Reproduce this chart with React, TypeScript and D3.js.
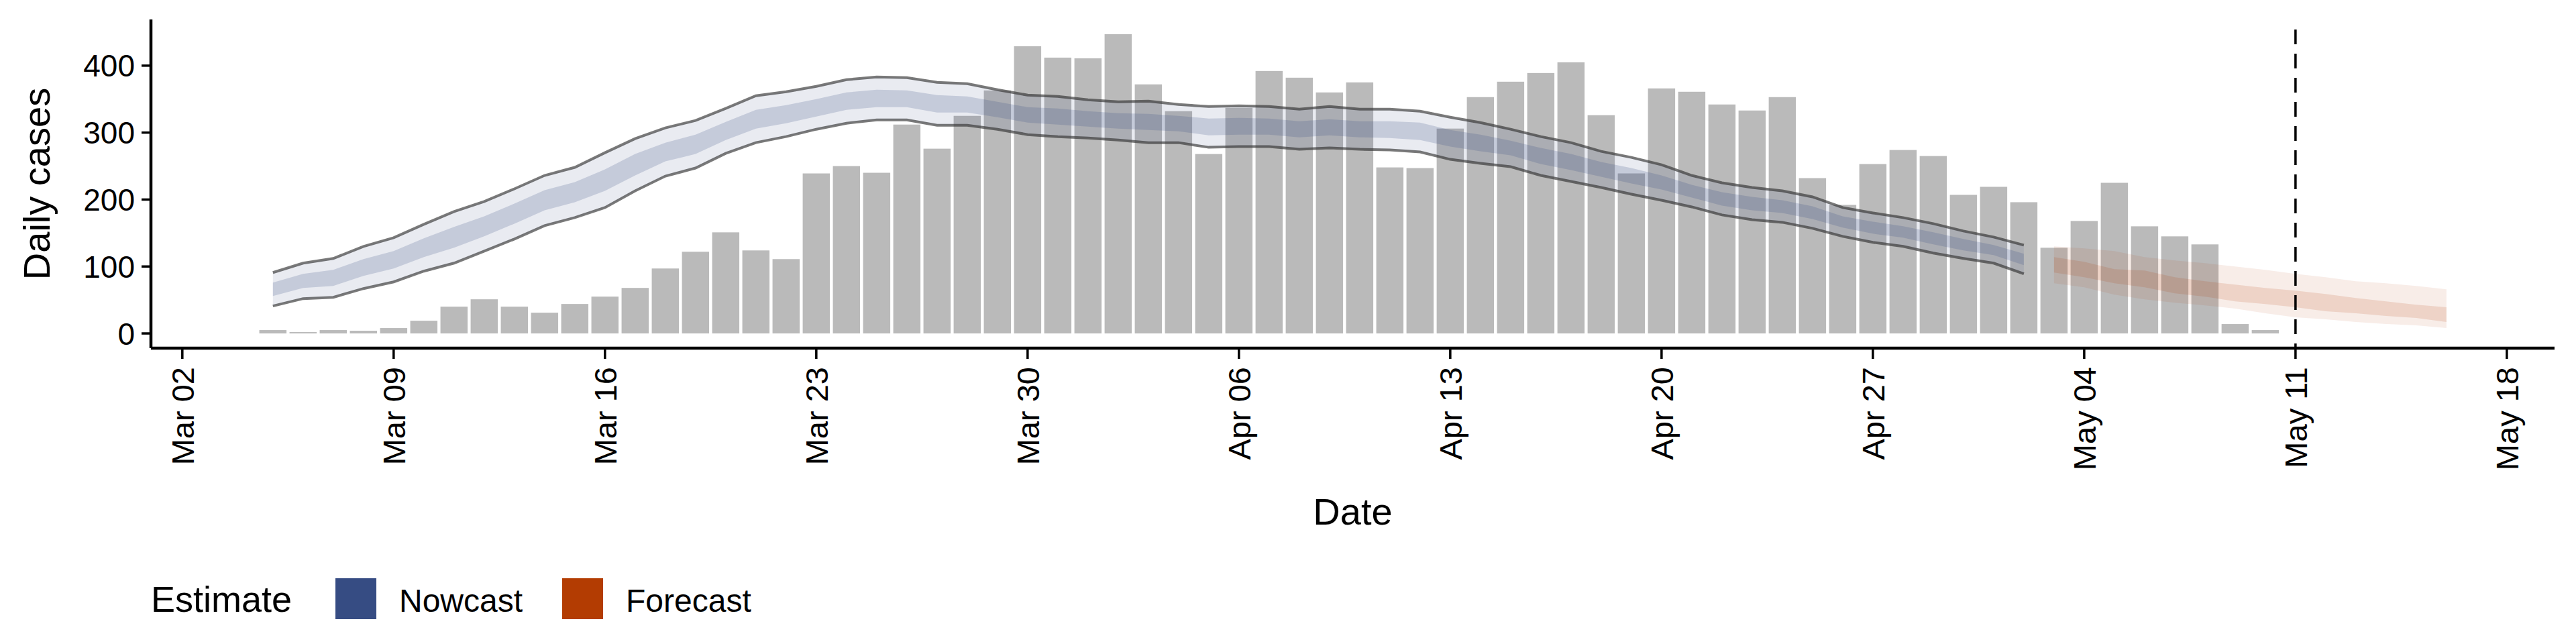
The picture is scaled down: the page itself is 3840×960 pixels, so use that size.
import React from 'react';
import * as d3 from 'd3';

// Reported daily cases, Mar 05 .. May 10
const caseStart = new Date(2020, 2, 5);
const cases = [
  5, 2, 5, 4, 8, 19, 40, 51, 40, 31, 44, 55, 68, 97, 122, 151, 124, 111, 239, 250, 240,
  312, 276, 325, 363, 429, 412, 411, 447, 372, 332, 268, 337, 392, 382, 360, 375, 248, 247,
  306, 353, 376, 389, 405, 326, 239, 366, 361, 342, 333, 353, 232, 192, 253, 274, 265, 207,
  219, 196, 128, 168, 225, 160, 145, 133, 14, 5,
];

// Nowcast Mar 05 .. May 02
const nowStart = new Date(2020, 2, 5);
const nowUpper90 = [
  91, 105, 112, 130, 143, 163, 182, 197, 216, 236, 248, 270, 291, 307, 318, 336, 355, 361, 369, 379, 383,
  382, 375, 373, 364, 356, 354, 349, 346, 347, 342, 339, 340, 339, 335, 339, 335, 335, 332, 323, 315, 305,
  294, 285, 272, 263, 252, 236, 225, 218, 213, 204, 188, 180, 173, 164, 153, 144, 132,
];
const nowLower90 = [
  41, 52, 54, 67, 77, 93, 105, 123, 141, 161, 173, 188, 213, 235, 247, 269, 285, 294, 305, 314, 319,
  319, 311, 311, 305, 297, 294, 292, 289, 285, 285, 278, 279, 279, 275, 277, 275, 274, 271, 260, 254, 249,
  236, 227, 218, 208, 199, 189, 177, 170, 166, 157, 145, 136, 130, 120, 112, 105, 89,
];
const nowLower50 = [
  56, 68, 71, 86, 97, 114, 128, 145, 164, 184, 196, 213, 236, 257, 268, 289, 306, 314, 324, 334, 338,
  338, 330, 330, 323, 315, 312, 309, 306, 304, 302, 296, 297, 297, 293, 296, 293, 292, 289, 279, 272, 266,
  253, 244, 234, 224, 215, 203, 191, 184, 180, 171, 158, 149, 143, 133, 124, 117, 102,
];
const nowUpper50 = [
  76, 89, 95, 111, 123, 142, 159, 175, 194, 214, 226, 245, 268, 285, 297, 316, 334, 341, 350, 360, 364,
  363, 356, 354, 346, 338, 336, 332, 329, 328, 325, 321, 322, 321, 317, 320, 317, 317, 315, 304, 297, 288,
  277, 268, 256, 247, 236, 222, 211, 204, 199, 190, 175, 167, 160, 151, 141, 132, 119,
];

// Forecast May 03 .. May 16
const fcStart = new Date(2020, 4, 3);
const fcUpper90 = [130, 127, 123, 114, 109, 105, 100, 95, 89, 84, 78, 75, 71, 66];
const fcLower90 = [75, 69, 58, 51, 46, 42, 37, 30, 24, 21, 17, 14, 12, 8];
const fcUpper50 = [114, 107, 96, 94, 84, 78, 73, 68, 64, 59, 53, 48, 43, 39];
const fcLower50 = [91, 84, 75, 69, 60, 55, 48, 44, 39, 33, 30, 26, 23, 17];

const xTicks = ['2020-03-02', '2020-03-09', '2020-03-16', '2020-03-23', '2020-03-30', '2020-04-06',
  '2020-04-13', '2020-04-20', '2020-04-27', '2020-05-04', '2020-05-11', '2020-05-18'];
const yTicks = [0, 100, 200, 300, 400];
const cutoffDate = new Date(2020, 4, 11);

const NOW_COL = '#364C83';
const FC_COL = '#B33C02';
const FONT = '"Liberation Sans", Arial, sans-serif';

const DAY = 86400000;
const addDays = (d: Date, n: number) => new Date(d.getTime() + n * DAY);
const parse = (s: string) => { const [y, m, d] = s.split('-').map(Number); return new Date(y, m - 1, d); };

export default function App() {
  const W = 3840, H = 960;
  const left = 225, right = 3808, top = 29, bottom = 519;

  const x = d3.scaleTime()
    .domain([addDays(new Date(2020, 2, 2), -1.04), addDays(new Date(2020, 4, 18), 1.58)])
    .range([left, right]);
  const y = d3.scaleLinear().domain([-22, 469]).range([bottom, top]);
  const dayW = x(new Date(2020, 2, 3)) - x(new Date(2020, 2, 2));
  const barW = dayW * 0.9;

  const band = (start: Date, lo: number[], hi: number[]) =>
    d3.area<number>()
      .x((_, i) => x(addDays(start, i)))
      .y0((_, i) => y(lo[i]))
      .y1((_, i) => y(hi[i]))(lo) || '';
  const line = (start: Date, v: number[]) =>
    d3.line<number>().x((_, i) => x(addDays(start, i))).y(d => y(d))(v) || '';

  return (
    <div style={{ position: 'absolute', left: 0, top: 0 }}>
      <svg width={W} height={H} style={{ display: 'block', background: '#fff' }} fontFamily={FONT}>
        {/* bars */}
        {cases.map((v, i) => {
          const d = addDays(caseStart, i);
          return <rect key={i} x={x(d) - barW / 2} y={y(v)} width={barW} height={y(0) - y(v)} fill="#BABABA" />;
        })}

        {/* nowcast */}
        <path d={band(nowStart, nowLower90, nowUpper90)} fill={NOW_COL} fillOpacity={0.11} />
        <path d={band(nowStart, nowLower50, nowUpper50)} fill={NOW_COL} fillOpacity={0.2} />
        <path d={line(nowStart, nowUpper90)} fill="none" stroke="#333" strokeOpacity={0.65} strokeWidth={4} />
        <path d={line(nowStart, nowLower90)} fill="none" stroke="#333" strokeOpacity={0.65} strokeWidth={4} />

        {/* forecast */}
        <path d={band(fcStart, fcLower90, fcUpper90)} fill={FC_COL} fillOpacity={0.09} />
        <path d={band(fcStart, fcLower50, fcUpper50)} fill={FC_COL} fillOpacity={0.14} />

        {/* cutoff */}
        <line x1={x(cutoffDate)} x2={x(cutoffDate)} y1={44} y2={bottom} stroke="#000" strokeWidth={3.5} strokeDasharray="22,14" />

        {/* axes */}
        <line x1={left} x2={left} y1={top} y2={bottom} stroke="#000" strokeWidth={4.5} />
        <line x1={left} x2={right} y1={bottom} y2={bottom} stroke="#000" strokeWidth={4.5} />
        {yTicks.map(t => (
          <g key={t}>
            <line x1={left - 14} x2={left} y1={y(t)} y2={y(t)} stroke="#000" strokeWidth={3.5} />
            <text x={left - 24} y={y(t)} dy="0.36em" textAnchor="end" fontSize={46}>{t}</text>
          </g>
        ))}
        {xTicks.map(s => {
          const d = parse(s);
          const px = x(d);
          return (
            <g key={s}>
              <line x1={px} x2={px} y1={bottom} y2={bottom + 16} stroke="#000" strokeWidth={3.5} />
              <text transform={`translate(${px},${bottom + 28}) rotate(-90)`} textAnchor="end" dy="0.36em" fontSize={47}>
                {d3.timeFormat('%b %d')(d)}
              </text>
            </g>
          );
        })}
        <text x={(left + right) / 2} y={782} textAnchor="middle" fontSize={56}>Date</text>
        <text transform={`translate(74,${(top + bottom) / 2}) rotate(-90)`} textAnchor="middle" fontSize={56}>Daily cases</text>

        {/* legend */}
        <text x={225} y={912} fontSize={54}>Estimate</text>
        <rect x={500} y={862} width={61} height={61} fill={NOW_COL} />
        <text x={595} y={912} fontSize={48}>Nowcast</text>
        <rect x={838} y={862} width={61} height={61} fill={FC_COL} />
        <text x={933} y={912} fontSize={48}>Forecast</text>
      </svg>
    </div>
  );
}
